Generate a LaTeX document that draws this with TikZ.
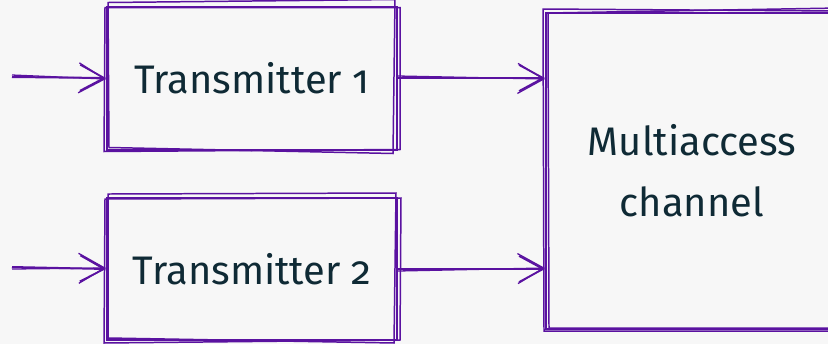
\documentclass[tikz,border=0pt]{standalone}
\usepackage{fontspec}
\setmainfont[Numbers=OldStyle]{Fira Sans}
\usetikzlibrary{arrows.meta}
\definecolor{pur}{HTML}{5A12A0}
\definecolor{ink}{HTML}{0F2A35}
\definecolor{bg}{HTML}{F7F7F7}
\tikzset{
  box/.style={draw=pur, line width=2pt, inner sep=0pt, font=\fontsize{40}{61}\selectfont, text=ink, align=center},
  sk/.style={draw=pur, line width=1.5pt},
  arr/.style={draw=pur, line width=2pt, -{Straight Barb[length=24bp,width=26bp,line width=1.8pt]}},
  arr2/.style={draw=pur, line width=1.3pt, -{Straight Barb[length=26bp,width=30bp,line width=1.3pt]}},
}
\begin{document}
\begin{tikzpicture}[x=1bp,y=-1bp]
\fill[bg] (0,0) rectangle (828,344);
\useasboundingbox (0,0) rectangle (828,344);
\node[box, minimum width=290bp, minimum height=143bp] (t1) at (252,78) {Transmitter 1};
\node[box, minimum width=290bp, minimum height=142bp] (t2) at (252,269) {Transmitter 2};
\node[box, minimum width=292bp, minimum height=316bp] (ch) at (692,171) {Multiaccess\\channel};
% sketch strokes
\draw[sk] ([shift={(2,-3)}]t1.north west) -- ([shift={(-3,-6)}]t1.north east) -- ([shift={(-5,3)}]t1.south east) -- ([shift={(3,-3)}]t1.south west) -- cycle;
\draw[sk] ([shift={(-1,2)}]t1.north west) -- ([shift={(2,2)}]t1.north east) -- ([shift={(2,-1)}]t1.south east) -- ([shift={(-2,1)}]t1.south west) -- cycle;
\draw[sk] ([shift={(2,-3)}]t2.north west) -- ([shift={(-2,-4)}]t2.north east) -- ([shift={(-4,2)}]t2.south east) -- ([shift={(2,-3)}]t2.south west) -- cycle;
\draw[sk] ([shift={(-1,2)}]t2.north west) -- ([shift={(3,1)}]t2.north east) -- ([shift={(2,-1)}]t2.south east) -- ([shift={(-2,2)}]t2.south west) -- cycle;
\draw[sk] ([shift={(3,1)}]ch.north west) -- ([shift={(0,-4)}]ch.north east) -- ([shift={(0,-2)}]ch.south east) -- ([shift={(4,-2)}]ch.south west) -- cycle;
\draw[sk] ([shift={(-2,-3)}]ch.north west) -- ([shift={(0,-1)}]ch.north east) -- ([shift={(0,1)}]ch.south east) -- ([shift={(-1,1)}]ch.south west) -- cycle;
% connectors
\coordinate (i1) at (12,77);
\coordinate (i2) at (12,267);
\draw[arr] (i1) -- (t1.west);
\draw[arr2] ([yshift=2]i1) -- ([yshift=-1]t1.west);
\draw[arr] (i2) -- (t2.west);
\draw[arr2] ([yshift=-2]i2) -- ([yshift=1]t2.west);
\draw[arr] (t1.east) -- (t1.east -| ch.west);
\draw[arr2] ([yshift=2]t1.east) -- ([yshift=-1]t1.east -| ch.west);
\draw[arr] (t2.east) -- (t2.east -| ch.west);
\draw[arr2] ([yshift=-2]t2.east) -- ([yshift=1]t2.east -| ch.west);
\end{tikzpicture}
\end{document}
